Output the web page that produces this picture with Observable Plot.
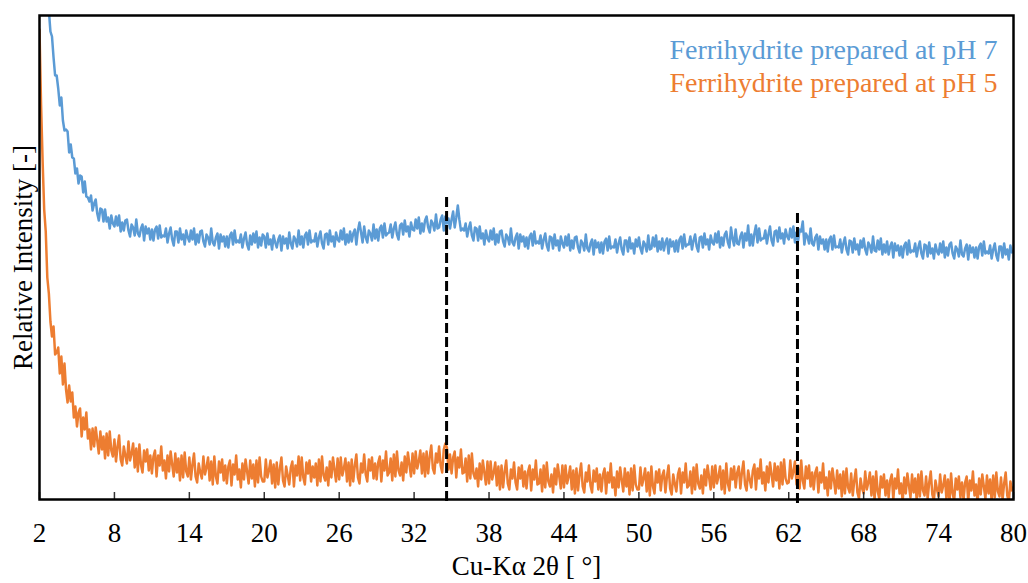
<!DOCTYPE html>
<html>
<head>
<meta charset="utf-8">
<script src="https://cdn.jsdelivr.net/npm/d3@7"></script>
<script src="https://cdn.jsdelivr.net/npm/@observablehq/plot@0.6"></script>
<style>
  body { margin: 0; background: #fff; }
  #chart svg { display: block; }
</style>
</head>
<body>
<div id="chart"></div>
<script>
// ---- Data ----
const seriesNames = ["Ferrihydrite prepared at pH 7", "Ferrihydrite prepared at pH 5"];
const seriesColors = ["#5B9BD5", "#ED7D31"];
const xTicks = [2, 8, 14, 20, 26, 32, 38, 44, 50, 56, 62, 68, 74, 80];
const xLabel = "Cu-Kα 2θ [ °]";
const yLabel = "Relative Intensity [-]";
const peakPositions = [34.6, 62.7];   // dashed reference lines (2θ)
const peakTops = [302, 286];          // top of each dashed line (intensity units)
const startAngle = 2;                 // first 2θ of the scan
const stepAngle = 0.125;              // scan step

// relative intensity, pH 7 (one row = one degree, 8 steps)
const intensityPH7 = [
  640, 612, 578, 556, 528, 507, 489, 468,
  463, 442, 424, 424, 411, 394, 402, 379,
  369, 370, 368, 347, 355, 342, 341, 326,
  331, 316, 324, 323, 307, 318, 303, 302,
  298, 304, 289, 296, 300, 286, 279, 291,
  290, 278, 290, 278, 282, 271, 284, 276,
  273, 283, 274, 284, 268, 277, 269, 279,
  280, 269, 263, 275, 272, 264, 280, 266,
  263, 271, 275, 259, 273, 266, 271, 260,
  270, 259, 270, 273, 261, 274, 262, 264,
  263, 271, 257, 266, 272, 260, 254, 268,
  268, 257, 271, 260, 265, 255, 269, 262,
  258, 269, 260, 271, 255, 265, 257, 268,
  269, 258, 253, 265, 262, 255, 271, 257,
  254, 262, 266, 251, 265, 258, 263, 253,
  263, 252, 264, 267, 255, 269, 257, 259,
  257, 265, 252, 261, 267, 255, 250, 264,
  255, 266, 257, 268, 252, 262, 254, 265,
  263, 252, 266, 255, 260, 250, 264, 257,
  252, 260, 264, 249, 263, 256, 261, 251,
  267, 256, 251, 263, 260, 253, 269, 255,
  263, 252, 264, 267, 255, 269, 257, 259,
  258, 266, 253, 262, 268, 256, 251, 265,
  266, 255, 269, 258, 263, 253, 267, 260,
  258, 269, 260, 271, 255, 265, 257, 268,
  258, 266, 270, 255, 269, 277, 267, 257,
  273, 262, 257, 269, 266, 259, 275, 261,
  270, 259, 271, 274, 262, 276, 264, 266,
  267, 275, 262, 271, 277, 265, 260, 274,
  276, 265, 279, 268, 273, 263, 277, 270,
  269, 280, 271, 282, 266, 276, 268, 279,
  283, 272, 267, 279, 276, 269, 285, 271,
  272, 280, 284, 269, 283, 276, 281, 271,
  280, 288, 272, 282, 294, 280, 269, 271,
  269, 276, 263, 271, 277, 264, 259, 272,
  271, 259, 273, 261, 266, 255, 269, 261,
  258, 269, 260, 271, 255, 265, 257, 268,
  269, 258, 253, 265, 262, 255, 271, 257,
  254, 262, 266, 251, 265, 258, 263, 253,
  262, 251, 263, 266, 254, 268, 256, 258,
  256, 264, 251, 260, 266, 254, 249, 263,
  262, 251, 265, 254, 259, 249, 263, 256,
  252, 263, 254, 265, 249, 259, 251, 262,
  263, 252, 247, 259, 256, 249, 265, 251,
  248, 256, 260, 245, 259, 252, 257, 247,
  257, 246, 258, 261, 249, 263, 251, 253,
  252, 260, 247, 256, 262, 250, 245, 259,
  259, 248, 262, 251, 256, 246, 260, 253,
  262, 251, 246, 258, 255, 248, 264, 250,
  251, 262, 253, 264, 248, 258, 250, 261,
  249, 257, 261, 246, 260, 253, 258, 248,
  259, 248, 260, 263, 251, 265, 253, 255,
  255, 263, 250, 259, 265, 253, 248, 262,
  263, 252, 266, 255, 260, 250, 264, 257,
  255, 266, 257, 268, 252, 262, 254, 265,
  268, 257, 252, 272, 261, 254, 270, 256,
  255, 263, 267, 252, 266, 259, 274, 254,
  265, 254, 266, 274, 257, 271, 259, 261,
  261, 269, 256, 265, 273, 259, 254, 268,
  269, 258, 272, 261, 266, 256, 270, 263,
  260, 271, 262, 273, 257, 267, 259, 270,
  268, 278, 255, 266, 263, 256, 271, 256,
  254, 262, 265, 250, 263, 256, 260, 250,
  260, 248, 260, 263, 250, 264, 252, 253,
  252, 260, 247, 256, 262, 250, 245, 259,
  258, 247, 261, 250, 255, 245, 259, 252,
  261, 250, 245, 257, 254, 247, 263, 249,
  248, 259, 250, 261, 245, 255, 247, 258,
  245, 253, 257, 242, 256, 249, 254, 244,
  253, 242, 254, 257, 245, 259, 247, 249,
  248, 256, 243, 252, 258, 246, 241, 255,
  254, 243, 257, 246, 251, 241, 255, 248,
  245, 256, 247, 258, 242, 252, 244, 255,
  257, 246, 241, 253, 250, 243, 259, 245,
  243, 251, 255, 240, 254, 247, 252, 242,
  252, 241, 253, 256, 244, 258, 246, 248,
  246, 254, 241, 250, 256, 244, 239, 253,
  253, 242, 256, 245, 250, 240, 254, 247,
  248
];

// relative intensity, pH 5 (one row = one degree, 8 steps)
const intensityPH5 = [
  470, 395, 338, 290, 268, 222, 206, 178,
  163, 173, 145, 147, 152, 126, 143, 115,
  136, 110, 97, 114, 98, 107, 82, 93,
  73, 87, 91, 63, 82, 70, 87, 61,
  70, 50, 71, 53, 72, 59, 46, 68,
  50, 63, 41, 66, 44, 68, 49, 43,
  60, 38, 53, 64, 40, 34, 53, 44,
  36, 58, 39, 46, 56, 32, 51, 28,
  55, 35, 27, 49, 38, 50, 29, 44,
  26, 43, 49, 23, 44, 34, 53, 29,
  39, 21, 44, 28, 48, 35, 23, 46,
  27, 41, 19, 44, 22, 47, 28, 23,
  42, 20, 35, 46, 23, 17, 36, 27,
  21, 43, 25, 32, 42, 19, 38, 15,
  43, 23, 16, 38, 27, 40, 19, 34,
  16, 33, 39, 14, 35, 25, 44, 20,
  30, 12, 36, 20, 40, 28, 16, 39,
  21, 35, 13, 39, 17, 42, 23, 18,
  18, 40, 22, 29, 39, 16, 35, 12,
  37, 15, 31, 42, 19, 13, 33, 24,
  15, 32, 38, 13, 34, 24, 43, 19,
  42, 22, 15, 37, 26, 39, 18, 33,
  22, 36, 14, 40, 18, 43, 24, 19,
  32, 14, 38, 22, 42, 30, 18, 41,
  20, 42, 24, 31, 41, 18, 37, 14,
  40, 18, 34, 45, 22, 16, 36, 27,
  45, 25, 18, 40, 29, 42, 21, 36,
  20, 37, 43, 18, 39, 29, 48, 24,
  27, 41, 19, 45, 23, 48, 29, 24,
  37, 19, 43, 27, 47, 35, 23, 46,
  26, 48, 31, 38, 49, 26, 46, 23,
  48, 26, 43, 54, 31, 26, 46, 37,
  53, 34, 27, 50, 56, 52, 30, 45,
  26, 42, 48, 22, 42, 32, 50, 26,
  27, 41, 18, 44, 21, 46, 26, 21,
  31, 13, 36, 20, 39, 27, 15, 38,
  16, 38, 20, 27, 37, 14, 33, 10,
  34, 12, 28, 39, 16, 10, 30, 21,
  37, 17, 10, 32, 21, 34, 13, 28,
  11, 28, 34, 9, 30, 20, 39, 15,
  16, 30, 8, 34, 12, 37, 18, 13,
  25, 7, 31, 15, 35, 23, 11, 34,
  12, 34, 16, 23, 33, 10, 29, 6,
  31, 9, 25, 36, 13, 7, 27, 18,
  34, 14, 7, 29, 18, 31, 10, 25,
  8, 25, 31, 6, 27, 17, 36, 12,
  22, 4, 28, 12, 32, 20, 8, 31,
  13, 27, 5, 31, 9, 34, 15, 10,
  10, 32, 14, 21, 31, 8, 27, 4,
  33, 13, 6, 28, 17, 30, 9, 24,
  29, 7, 23, 34, 11, 5, 25, 16,
  8, 25, 31, 6, 27, 17, 36, 12,
  14, 28, 6, 32, 10, 35, 16, 11,
  24, 6, 30, 14, 34, 22, 10, 33,
  12, 34, 16, 23, 33, 10, 29, 6,
  36, 16, 9, 31, 20, 33, 12, 27,
  33, 11, 27, 38, 15, 9, 29, 20,
  12, 29, 35, 10, 31, 21, 40, 16,
  27, 9, 33, 17, 37, 25, 13, 36,
  19, 33, 11, 37, 15, 40, 21, 16,
  17, 39, 21, 28, 38, 15, 34, 11,
  39, 19, 11, 33, 21, 34, 13, 27,
  10, 27, 32, 7, 27, 17, 36, 11,
  22, 4, 28, 11, 31, 19, 6, 29,
  11, 25, 3, 28, 6, 31, 12, 7,
  26, 4, 19, 30, 7, 1, 21, 11,
  6, 28, 10, 17, 27, 4, 23, 0,
  28, 8, 1, 23, 12, 25, 4, 19,
  2, 19, 25, 0, 21, 11, 30, 6,
  16, -2, 22, 6, 26, 14, 2, 25,
  7, 21, -1, 25, 3, 28, 9, 4,
  23, 1, 17, 28, 5, -1, 19, 10,
  3, 25, 7, 14, 24, 1, 20, -3,
  26, 6, -1, 21, 10, 23, 2, 17,
  0, 17, 23, -2, 19, 9, 28, 4,
  15, -3, 21, 5, 25, 13, 1, 24,
  6, 20, -2, 24, 2, 27, 8, 3,
  22, 0, 16, 27, 4, -2, 18, 9,
  12
];

// ---- Build tidy table ----
const rows = [];
[intensityPH7, intensityPH5].forEach((arr, s) => {
  arr.forEach((v, i) => rows.push({series: seriesNames[s], angle: startAngle + i * stepAngle, intensity: v}));
});
const peaks = peakPositions.map((p, i) => ({angle: p, top: peakTops[i]}));

const font = "'Liberation Serif', 'Times New Roman', Times, serif";

const chart = Plot.plot({
  width: 1028,
  height: 583,
  marginLeft: 39,
  marginRight: 15,
  marginTop: 15,
  marginBottom: 84,
  style: {fontFamily: font, fontSize: "27px", background: "#fff", color: "#000", overflow: "visible"},
  x: {domain: [2, 80], axis: null},
  y: {domain: [0, 484], axis: null},
  color: {domain: seriesNames, range: seriesColors},
  marks: [
    Plot.line(rows, {x: "angle", y: "intensity", z: "series", stroke: "series", strokeWidth: 2.5, clip: true}),
    Plot.ruleX(peaks, {x: "angle", y1: "top", y2: 0, insetBottom: -4, stroke: "#000", strokeWidth: 3, strokeDasharray: "10,4"}),
    Plot.tickX(xTicks, {x: d => d, insetTop: 477, stroke: "#333", strokeWidth: 1.5}),
    Plot.frame({stroke: "#000", strokeWidth: 2.5}),
    Plot.text(xTicks, {x: d => d, text: d => String(d), frameAnchor: "bottom", lineAnchor: "middle", dy: 33.5, fill: "#000", fontSize: 27}),
    Plot.text([xLabel], {text: d => d, frameAnchor: "bottom", lineAnchor: "middle", dy: 67, fill: "#000", fontSize: 27}),
    Plot.text([yLabel], {text: d => d, frameAnchor: "left", textAnchor: "middle", lineAnchor: "middle", dx: -16.5, rotate: -90, fill: "#000", fontSize: 27}),
    Plot.text([seriesNames[0]], {text: d => d, frameAnchor: "top-right", textAnchor: "end", lineAnchor: "middle", dx: -16, dy: 35, fill: seriesColors[0], fontSize: 28}),
    Plot.text([seriesNames[1]], {text: d => d, frameAnchor: "top-right", textAnchor: "end", lineAnchor: "middle", dx: -16, dy: 68, fill: seriesColors[1], fontSize: 28})
  ]
});
document.getElementById("chart").appendChild(chart);
</script>
</body>
</html>
